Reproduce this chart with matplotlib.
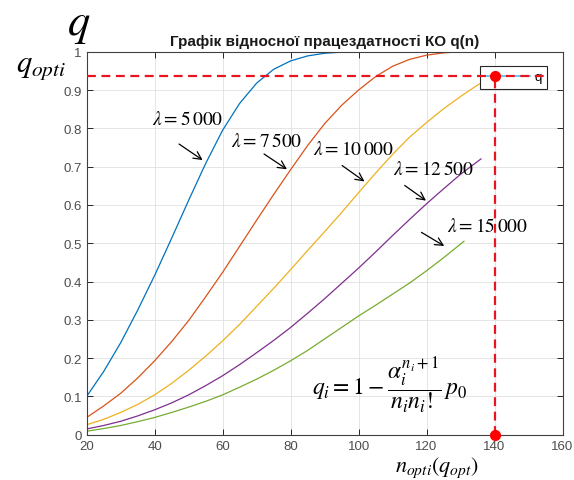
import matplotlib
matplotlib.use("Agg")
import matplotlib.pyplot as plt
from matplotlib.lines import Line2D

plt.rcParams['font.family'] = ['Liberation Sans', 'DejaVu Sans']
plt.rcParams['mathtext.fontset'] = 'stix'

# data
blue_x = [20, 25, 30, 35, 40, 45, 50, 55, 60, 65, 70, 75, 80, 85, 90, 95, 100, 110, 120, 130]
blue_q = [0.100, 0.165, 0.240, 0.325, 0.416, 0.513, 0.612, 0.708, 0.795, 0.865,
          0.918, 0.954, 0.976, 0.989, 0.996, 0.999, 1.0, 1.0, 1.0, 1.0]

orange_x = [20, 25, 30, 35, 40, 45, 50, 55, 60, 65, 70, 75, 80, 85, 90, 95, 100,
            105, 110, 115, 120, 125, 130, 140]
orange_q = [0.045, 0.075, 0.108, 0.148, 0.193, 0.243, 0.298, 0.360, 0.424, 0.492,
            0.560, 0.627, 0.692, 0.755, 0.812, 0.860, 0.900, 0.935, 0.962, 0.980,
            0.991, 0.997, 1.0, 1.0]

yellow_x = [20, 25, 30, 35, 40, 45, 50, 55, 60, 65, 70, 75, 80, 85, 90, 95, 100,
            105, 110, 115, 120, 125, 130, 135, 140]
yellow_q = [0.026, 0.040, 0.058, 0.079, 0.104, 0.134, 0.168, 0.205, 0.245, 0.288,
            0.335, 0.382, 0.431, 0.481, 0.530, 0.580, 0.632, 0.683, 0.732, 0.777,
            0.815, 0.851, 0.883, 0.913, 0.937]

purple_x = [20, 25, 30, 35, 40, 45, 50, 55, 60, 65, 70, 75, 80, 85, 90, 95, 100,
            105, 110, 115, 120, 125, 130, 136]
purple_q = [0.015, 0.024, 0.035, 0.049, 0.065, 0.083, 0.104, 0.128, 0.154, 0.183,
            0.214, 0.246, 0.280, 0.317, 0.355, 0.395, 0.435, 0.477, 0.520, 0.562,
            0.603, 0.642, 0.680, 0.720]

green_x = [20, 25, 30, 35, 40, 45, 50, 55, 60, 65, 70, 75, 80, 85, 90, 95, 100,
           105, 110, 115, 120, 125, 131]
green_q = [0.009, 0.016, 0.024, 0.034, 0.045, 0.058, 0.072, 0.087, 0.104, 0.124,
           0.145, 0.168, 0.193, 0.220, 0.250, 0.280, 0.310, 0.338, 0.367, 0.396,
           0.428, 0.462, 0.505]

n_opt = 140
q_opt = 0.937

labels = [r'$\lambda = 5\,000$', r'$\lambda = 7\,500$', r'$\lambda = 10\,000$',
          r'$\lambda = 12\,500$', r'$\lambda = 15\,000$']
label_pos = [(39.1, 0.824), (62.6, 0.768), (86.6, 0.746), (110.2, 0.694), (125.9, 0.544)]
arrow_from = [(46.5, 0.763), (71.5, 0.737), (94.5, 0.707), (112.9, 0.655), (117.8, 0.532)]
arrow_to = [(54.8, 0.713), (79.6, 0.689), (102.4, 0.657), (120.5, 0.607), (125.9, 0.489)]

colors = ['#0072BD', '#D95319', '#EDB120', '#7E2F8E', '#77AC30']

fig = plt.figure(figsize=(5.74, 4.81), dpi=100)
ax = fig.add_axes([0.151, 0.0942, 0.829, 0.7962])

series = [(blue_x, blue_q), (orange_x, orange_q), (yellow_x, yellow_q),
          (purple_x, purple_q), (green_x, green_q)]
for (xs, qs), c in zip(series, colors):
    ax.plot(xs, qs, color=c, lw=0.9)

# optimum point and guide lines
ax.plot([20, 155], [q_opt, q_opt], '--', color='#e8141f', lw=1.6, dashes=(4, 2.5), zorder=6)
ax.plot([n_opt, n_opt], [0, q_opt], '--', color='#e8141f', lw=1.6, dashes=(4, 2.5), zorder=6)
ax.plot([n_opt, n_opt], [q_opt, 0], 'o', color='#ff0000', ms=7, zorder=7, clip_on=False)

for lab, pos, a0, a1 in zip(labels, label_pos, arrow_from, arrow_to):
    ax.text(pos[0], pos[1], lab, fontsize=14, va='center', ha='left')
    ax.annotate('', xy=a1, xytext=a0,
                arrowprops=dict(arrowstyle='->', color='k', lw=0.9, mutation_scale=14))

ax.text(86.3, 0.132, r'$q_i = 1 - \dfrac{\alpha_i^{n_i+1}}{n_i n_i!}\, p_0$',
        fontsize=17, va='center', ha='left')

ax.set_xlim(20, 160)
ax.set_ylim(0, 1)
ax.set_xticks(range(20, 161, 20))
ax.set_yticks([i / 10 for i in range(11)])
ax.set_yticklabels(['0', '0.1', '0.2', '0.3', '0.4', '0.5', '0.6', '0.7', '0.8', '0.9', '1'])
ax.tick_params(direction='in', top=True, right=True, length=4, width=0.7,
               labelsize=9.5, colors='#262626', labelcolor='#4d4d4d')
for s in ax.spines.values():
    s.set_color('#404040')
    s.set_linewidth(0.8)
ax.grid(True, color='#e0e0e0', lw=0.6)
ax.set_axisbelow(True)

leg = ax.legend([Line2D([], [], color='#4DBEEE', lw=1.2)], ['q'],
                loc='upper right', bbox_to_anchor=(0.967, 0.963), borderaxespad=0,
                fontsize=9.5, handlelength=3.4, handletextpad=0.3, borderpad=0.4,
                fancybox=False, framealpha=1, edgecolor='#262626')
leg.get_frame().set_linewidth(0.8)

ax.set_title('Графік відносної працездатності КО q(n)', fontsize=11,
             fontweight='bold', pad=5, color='#1a1a1a')

fig.text(0.138, 0.948, r'$q$', fontsize=32, ha='center', va='center')
fig.text(0.072, 0.86, r'$q_{opti}$', fontsize=22, ha='center', va='center')
fig.text(0.761, 0.027, r'$n_{opti}(q_{opt})$', fontsize=16, ha='center', va='center')

fig.savefig('out.png', dpi=100)
